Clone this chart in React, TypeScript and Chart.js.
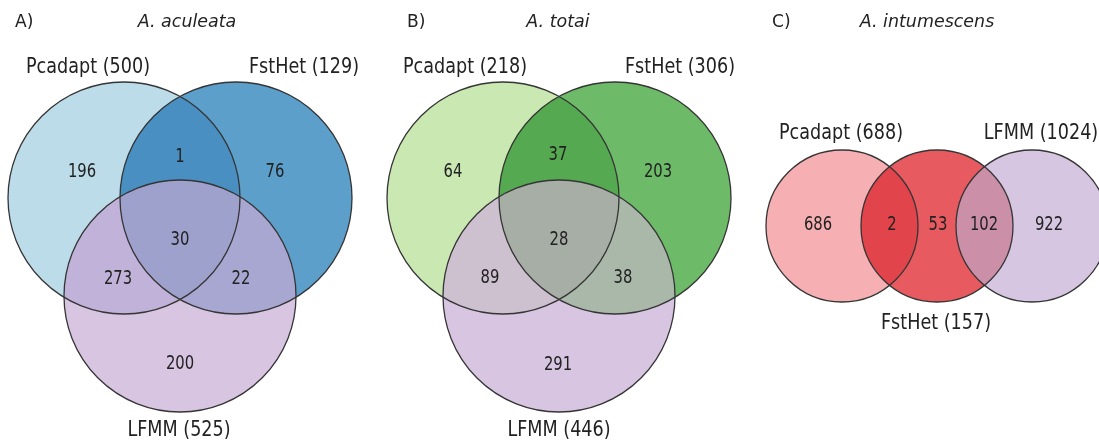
import React, { useEffect, useRef } from "react";
import { Chart, registerables } from "chart.js";

Chart.register(...registerables);

// ---- data -------------------------------------------------------------
const panelTags = ["A)", "B)", "C)"];
const speciesNames = ["A. aculeata", "A. totai", "A. intumescens"];
const setNames = ["Pcadapt", "FstHet", "LFMM"];

// set totals: Pcadapt, FstHet, LFMM
const totalsA = [500, 129, 525];
const totalsB = [218, 306, 446];
const totalsC = [688, 157, 1024];

// region counts for panels A and B:
// P only, F only, L only, P∩F, P∩L, F∩L, P∩F∩L
const regionsA = [196, 76, 200, 1, 273, 22, 30];
const regionsB = [64, 203, 291, 37, 89, 38, 28];
// region counts for panel C (chain): P only, P∩F, F only, F∩L, L only
const regionsC = [686, 2, 53, 102, 922];

// ---- layout (axis units, y grows downward) ----------------------------
type Circle = { cx: number; cy: number; r: number };
const circlesA: Circle[] = [
  { cx: 124, cy: 198, r: 116 },
  { cx: 236, cy: 198, r: 116 },
  { cx: 180, cy: 296, r: 116 },
];
const circlesB: Circle[] = circlesA.map((c) => ({ ...c, cx: c.cx + 379 }));
const circlesC: Circle[] = [
  { cx: 842, cy: 226, r: 76 },
  { cx: 937, cy: 226, r: 76 },
  { cx: 1032, cy: 226, r: 76 },
];

const regionPosA = [[82, 172], [275, 172], [180, 364], [180, 157], [118, 279], [241, 279], [180, 240]];
const regionPosB = [[453, 172], [658, 172], [558, 365], [558, 155], [490, 278], [623, 278], [559, 240]];
const regionPosC = [[818, 225], [892, 225], [938, 225], [984, 225], [1049, 225]];

const setLabelPosA = [[88, 67], [304, 67], [179, 430]];
const setLabelPosB = [[465, 67], [680, 67], [559, 430]];
const setLabelPosC = [[841, 133], [936, 323], [1041, 133]];

const tagPos = [[15, 22], [407, 22], [772, 22]];
const speciesPos = [[187, 22], [558, 22], [927, 22]];

// ---- colours ----------------------------------------------------------
// singles: P, F, L ; pairs: PF, PL, FL ; triple
const coloursA = {
  single: ["#bcdcea", "#5c9fcb", "#d7c5e1"],
  pair: ["#4a8fc2", "#c0b2d8", "#a7a7d2"],
  triple: "#9fa1cd",
};
const coloursB = {
  single: ["#cae8b1", "#6dbb68", "#d7c5e1"],
  pair: ["#55a950", "#cdc1cf", "#a9b8a9"],
  triple: "#a6aea6",
};
const coloursC = {
  single: ["#f6afb3", "#e65a60", "#d7c6e2"],
  pair: ["#e2444b", "", "#cc8fa8"],
  triple: "",
};

const INK = "#222222";
const EDGE = "#353535";

type Panel = {
  circles: Circle[];
  colours: { single: string[]; pair: string[]; triple: string };
  pairs: [number, number, number][]; // [a, b, colour index]
  triple: boolean;
  totals: number[];
  labelPos: number[][];
};

const panels: Panel[] = [
  { circles: circlesA, colours: coloursA, pairs: [[0, 1, 0], [0, 2, 1], [1, 2, 2]], triple: true, totals: totalsA, labelPos: setLabelPosA },
  { circles: circlesB, colours: coloursB, pairs: [[0, 1, 0], [0, 2, 1], [1, 2, 2]], triple: true, totals: totalsB, labelPos: setLabelPosB },
  { circles: circlesC, colours: coloursC, pairs: [[0, 1, 0], [1, 2, 2]], triple: false, totals: totalsC, labelPos: setLabelPosC },
];

function squishedText(ctx: CanvasRenderingContext2D, text: string, x: number, y: number, sx: number) {
  ctx.save();
  ctx.translate(x, y);
  ctx.scale(sx, 1);
  ctx.fillText(text, 0, 0);
  ctx.restore();
}

const vennPlugin = {
  id: "venn",
  beforeDatasetsDraw(chart: any) {
    const { ctx, scales } = chart;
    const xs = scales.x;
    const ys = scales.y;
    const toPx = (c: Circle) => {
      const x = xs.getPixelForValue(c.cx);
      const y = ys.getPixelForValue(c.cy);
      const r = xs.getPixelForValue(c.cx + c.r) - x;
      return { x, y, r };
    };
    const path = (c: { x: number; y: number; r: number }) => {
      ctx.beginPath();
      ctx.arc(c.x, c.y, c.r, 0, Math.PI * 2);
    };
    const W = chart.width;
    const H = chart.height;

    panels.forEach((p) => {
      const px = p.circles.map(toPx);
      // single areas
      px.forEach((c, i) => {
        path(c);
        ctx.fillStyle = p.colours.single[i];
        ctx.fill();
      });
      // pairwise overlaps
      p.pairs.forEach(([a, b, ci]) => {
        ctx.save();
        path(px[a]);
        ctx.clip();
        path(px[b]);
        ctx.clip();
        ctx.fillStyle = p.colours.pair[ci];
        ctx.fillRect(0, 0, W, H);
        ctx.restore();
      });
      // centre
      if (p.triple) {
        ctx.save();
        px.forEach((c) => {
          path(c);
          ctx.clip();
        });
        ctx.fillStyle = p.colours.triple;
        ctx.fillRect(0, 0, W, H);
        ctx.restore();
      }
      // outlines
      ctx.save();
      ctx.strokeStyle = EDGE;
      ctx.lineWidth = 1.3;
      px.forEach((c) => {
        path(c);
        ctx.stroke();
      });
      ctx.restore();
    });
  },
  afterDatasetsDraw(chart: any) {
    const { ctx, scales } = chart;
    const xs = scales.x;
    const ys = scales.y;
    ctx.save();
    ctx.fillStyle = INK;
    ctx.textBaseline = "middle";

    // region counts, placed at each dataset point
    ctx.textAlign = "center";
    ctx.font = "20px 'DejaVu Sans'";
    chart.data.datasets.forEach((ds: any, di: number) => {
      const meta = chart.getDatasetMeta(di);
      meta.data.forEach((el: any, i: number) => {
        squishedText(ctx, String(ds.data[i].v), el.x, el.y, 0.74);
      });
    });

    // set names with totals
    ctx.font = "22px 'DejaVu Sans'";
    panels.forEach((p) => {
      p.labelPos.forEach(([x, y], i) => {
        squishedText(ctx, `${setNames[i]} (${p.totals[i]})`, xs.getPixelForValue(x), ys.getPixelForValue(y), 0.8);
      });
    });

    // panel tags and species
    ctx.font = "18px 'DejaVu Sans'";
    ctx.textAlign = "left";
    panelTags.forEach((t, i) => {
      squishedText(ctx, t, xs.getPixelForValue(tagPos[i][0]), ys.getPixelForValue(tagPos[i][1]), 0.95);
    });
    ctx.font = "italic 18px 'DejaVu Sans'";
    ctx.textAlign = "center";
    speciesNames.forEach((s, i) => {
      squishedText(ctx, s, xs.getPixelForValue(speciesPos[i][0]), ys.getPixelForValue(speciesPos[i][1]), 0.97);
    });
    ctx.restore();
  },
};

function toPoints(values: number[], pos: number[][]) {
  return values.map((v, i) => ({ x: pos[i][0], y: pos[i][1], v }));
}

export default function App() {
  const canvasRef = useRef<HTMLCanvasElement | null>(null);

  useEffect(() => {
    const canvas = canvasRef.current;
    if (!canvas) return;
    const chart = new Chart(canvas, {
      type: "scatter",
      data: {
        datasets: [
          { label: "A", data: toPoints(regionsA, regionPosA) as any, pointRadius: 0 },
          { label: "B", data: toPoints(regionsB, regionPosB) as any, pointRadius: 0 },
          { label: "C", data: toPoints(regionsC, regionPosC) as any, pointRadius: 0 },
        ],
      },
      options: {
        responsive: false,
        maintainAspectRatio: false,
        animation: false,
        events: [],
        layout: { padding: 0 },
        scales: {
          x: { type: "linear", min: 0, max: 1099, display: false },
          y: { type: "linear", min: 0, max: 448, reverse: true, display: false },
        },
        plugins: {
          legend: { display: false },
          tooltip: { enabled: false },
        },
      },
      plugins: [vennPlugin],
    });
    return () => chart.destroy();
  }, []);

  return (
    <div style={{ position: "absolute", left: 0, top: 0, width: 1099, height: 448, background: "#ffffff" }}>
      <canvas ref={canvasRef} width={1099} height={448} style={{ display: "block" }} />
    </div>
  );
}
